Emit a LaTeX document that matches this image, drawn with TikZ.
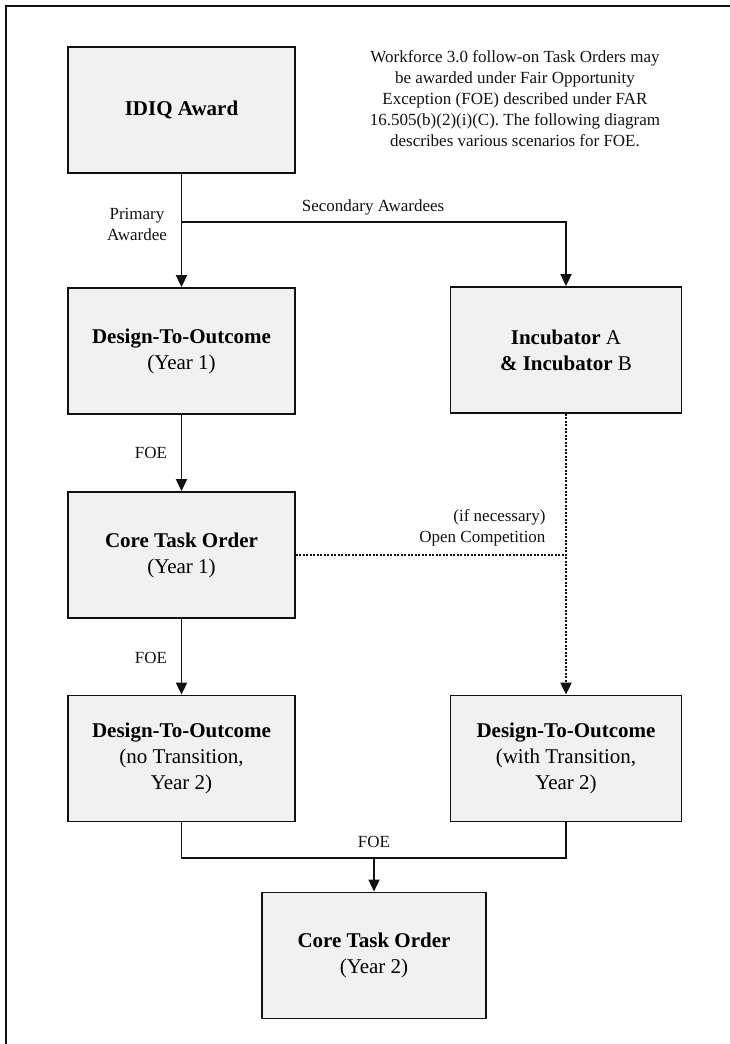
\documentclass[tikz,border=0pt]{standalone}
\usepackage{fontspec}
\setmainfont{Liberation Serif}
\usetikzlibrary{arrows.meta}
\definecolor{relleno}{HTML}{F1F1F1}
\definecolor{trazo}{HTML}{111111}

\begin{document}
\begin{tikzpicture}[x=1pt,y=-1pt,
   caja/.style={draw=trazo,line width=1.8pt,fill=relleno,minimum width=227pt,minimum height=126pt,inner sep=0pt,align=center,font=\fontsize{21}{26}\selectfont},
   rotulo/.style={align=center,text=trazo,font=\fontsize{17}{21}\selectfont},
   linea/.style={draw=trazo,line width=1.8pt},
   flecha/.style={linea,-{Triangle[width=11pt,length=12pt]}},
   punteado/.style={draw=trazo,line width=2pt,dash pattern=on 2pt off 1.5pt}]

  \useasboundingbox (0,0) rectangle (730,1044);
  % marco de la pagina
  \draw[trazo,line width=2.2pt] (6,1044) -- (6,6) -- (730,6);

  % --- cabecera ---
  \node[caja] (idiq) at (181.5,110) {\textbf{IDIQ Award}};
  \node[rotulo] (nota) at (515,99) {Workforce 3.0 follow-on Task Orders may\\
    be awarded under Fair Opportunity\\
    Exception (FOE) described under FAR\\
    16.505(b)(2)(i)(C). The following diagram\\
    describes various scenarios for FOE.};

  % --- primer anio ---
  \node[caja] (dtoa) at (181.5,351) {\textbf{Design-To-Outcome}\\(Year 1)};
  \node[caja,minimum width=231pt] (incu) at (566,350) {\textbf{Incubator} A\\\textbf{\& Incubator} B};
  \node[caja] (ctoa) at (181.5,555) {\textbf{Core Task Order}\\(Year 1)};

  % --- segundo anio ---
  \node[caja] (dtoc) at (181.5,758.5) {\textbf{Design-To-Outcome}\\(no Transition,\\Year 2)};
  \node[caja,minimum width=231pt] (dtod) at (566,758.5) {\textbf{Design-To-Outcome}\\(with Transition,\\Year 2)};
  \node[caja,minimum width=224pt] (ctob) at (374,955.5) {\textbf{Core Task Order}\\(Year 2)};

  % --- rotulos de las flechas ---
  \node[rotulo] (prim) at (137,224) {Primary\\Awardee};
  \node[rotulo] (secu) at (373,207) {Secondary Awardees};
  \node[rotulo] (foea) at (151,453) {FOE};
  \node[rotulo] (foeb) at (151,658) {FOE};
  \node[rotulo] (foec) at (374,842) {FOE};
  \node[rotulo,align=right,anchor=east] (comp) at (549,528) {(if necessary)\\Open Competition};

  % --- conectores ---
  \coordinate (rama) at (181.5,222);
  \coordinate (junta) at (374,858);
  \draw[flecha] (idiq) -- (dtoa);
  \draw[flecha] (rama) -| (incu);
  \draw[flecha] (dtoa) -- (ctoa);
  \draw[flecha] (ctoa) -- (dtoc);
  \draw[punteado,-{Triangle[width=11pt,length=12pt]}] (incu) -- (dtod);
  \draw[punteado] (ctoa.east) -- (ctoa.east -| incu);
  \draw[linea] (dtoc.south) |- (junta) -| (dtod.south);
  \draw[flecha] (junta) -- (ctob);
\end{tikzpicture}
\end{document}
